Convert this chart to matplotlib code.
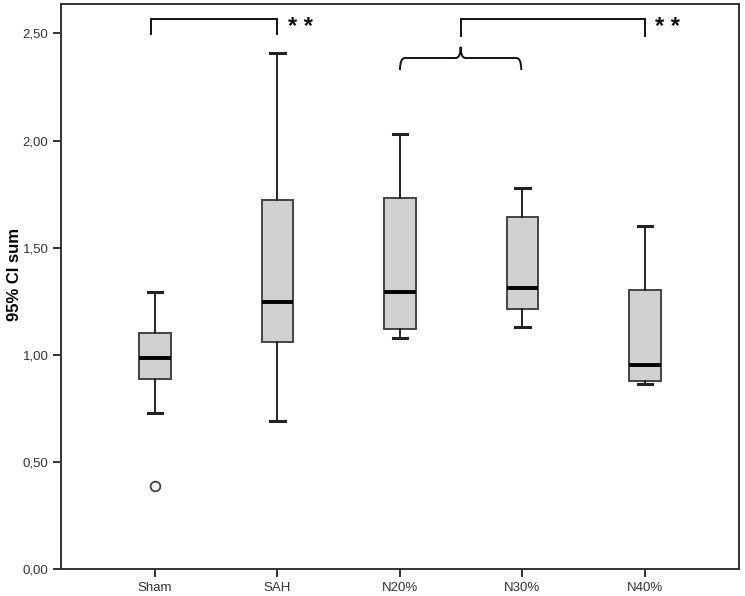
import matplotlib
matplotlib.use("Agg")
import matplotlib.pyplot as plt
from matplotlib.path import Path
from matplotlib.patches import PathPatch
from matplotlib.ticker import FuncFormatter, MultipleLocator

plt.rcParams['font.family'] = ['Liberation Sans', 'DejaVu Sans']

# box statistics
groups = ['Sham', 'SAH', 'N20%', 'N30%', 'N40%']
whisker_low = [0.728, 0.692, 1.079, 1.129, 0.863]
q1 = [0.889, 1.059, 1.119, 1.214, 0.880]
median = [0.984, 1.247, 1.293, 1.313, 0.953]
q3 = [1.101, 1.722, 1.730, 1.643, 1.303]
whisker_high = [1.295, 2.407, 2.030, 1.780, 1.603]
outliers = [[0.389], [], [], [], []]

# significance brackets: (left, right, bottom, top, label)
brackets = [(0.97, 2.0, 2.495, 2.567, '* *'),
            (3.5, 5.0, 2.487, 2.567, '* *')]
# curly brace joining N20% and N30%
brace_span = (3.0, 3.99)
brace_levels = (2.329, 2.385, 2.437)

stats = []
for i, g in enumerate(groups):
    stats.append(dict(label=g, whislo=whisker_low[i], q1=q1[i], med=median[i],
                      q3=q3[i], whishi=whisker_high[i], fliers=outliers[i]))

fig = plt.figure(figsize=(7.45, 5.96), dpi=100)
ax = fig.add_axes([0.0819, 0.0448, 0.910, 0.9485])

pos = list(range(1, len(groups) + 1))
ax.bxp(stats, positions=pos, widths=0.255, patch_artist=True,
       boxprops=dict(facecolor='#d0d0d0', edgecolor='#444444', linewidth=1.4),
       medianprops=dict(color='black', linewidth=2.8),
       whiskerprops=dict(color='#222222', linewidth=1.4),
       capprops=dict(color='#222222', linewidth=2.2),
       capwidths=0.115,
       flierprops=dict(marker='o', markersize=7, markerfacecolor='white',
                       markeredgecolor='#444444', markeredgewidth=1.3))

ax.set_xlim(0.233, 5.767)
ax.set_ylim(0, 2.637)
ax.yaxis.set_major_locator(MultipleLocator(0.5))
ax.yaxis.set_major_formatter(FuncFormatter(lambda v, p: f"{v:.2f}".replace('.', ',')))
ax.set_xticks(pos)
ax.set_xticklabels(groups)
ax.tick_params(axis='both', direction='out', length=6, width=1.4, color='#333333',
               labelsize=9.5, labelcolor='#333333', pad=3)
ax.set_ylabel('95% CI sum', fontsize=12, fontweight='bold')
ax.yaxis.set_label_coords(-0.057, 0.522)
for s in ax.spines.values():
    s.set_color('#333333')
    s.set_linewidth(1.4)

# brackets with stars
for x0, x1, yb, yt, lab in brackets:
    ax.plot([x0, x0, x1, x1], [yb, yt, yt, yb], color='#111111', lw=1.4,
            solid_joinstyle='miter')
    ax.text(x1 + 0.085, 2.497, lab, fontsize=17, fontweight='bold',
            ha='left', va='baseline', color='#111111')

# curly brace
bx0, bx1 = brace_span
ylo, yh, ytop = brace_levels
xm = (bx0 + bx1) / 2
d = 0.04
verts = [(bx0, ylo), (bx0, yh), (bx0 + d, yh),
         (xm - d, yh), (xm, yh), (xm, ytop),
         (xm, yh), (xm + d, yh),
         (bx1 - d, yh), (bx1, yh), (bx1, ylo)]
codes = [Path.MOVETO, Path.CURVE3, Path.CURVE3,
         Path.LINETO, Path.CURVE3, Path.CURVE3,
         Path.CURVE3, Path.CURVE3,
         Path.LINETO, Path.CURVE3, Path.CURVE3]
ax.add_patch(PathPatch(Path(verts, codes), fill=False, edgecolor='#111111', lw=1.4))

fig.savefig('out.png', dpi=100)
